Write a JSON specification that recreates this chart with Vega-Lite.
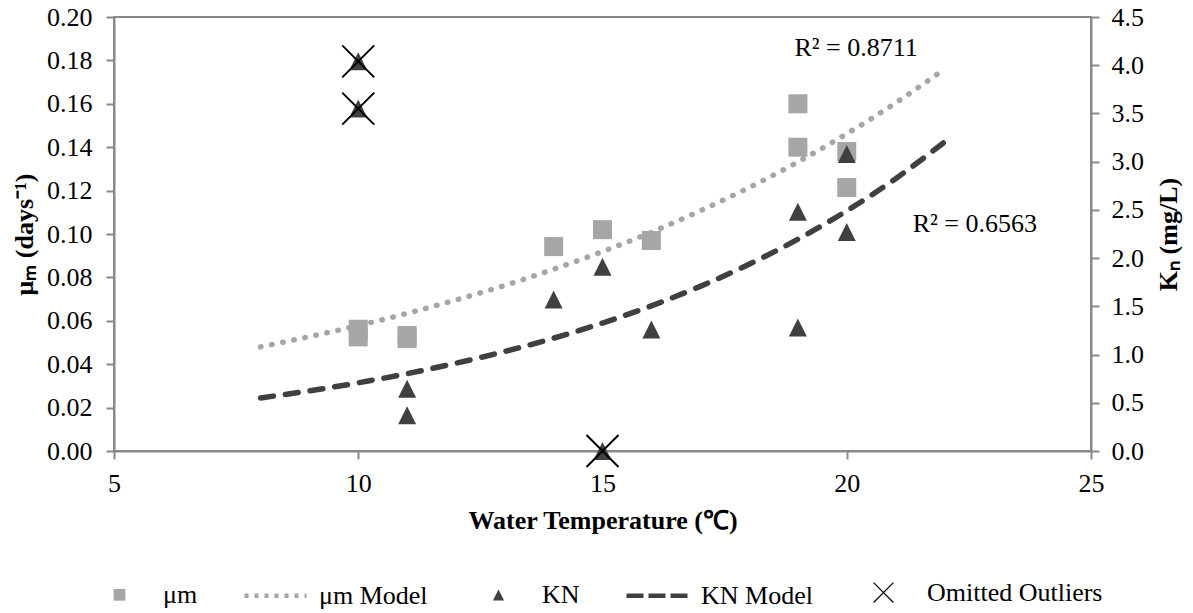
{
  "$schema": "https://vega.github.io/schema/vega-lite/v6.json",
  "width": 977,
  "height": 434,
  "autosize": {"type": "none"},
  "padding": {"left": 114, "top": 17, "right": 102, "bottom": 162},
  "background": "#ffffff",
  "config": {
    "font": "Liberation Serif",
    "style": {
      "guide-label": {"font": "Liberation Serif", "fill": "#000000"},
      "guide-title": {"font": "Liberation Serif", "fill": "#000000"}
    },
    "view": {"stroke": "#898989", "strokeWidth": 2},
    "axis": {
      "grid": false,
      "domainColor": "#898989",
      "domainWidth": 2,
      "tickColor": "#898989",
      "tickWidth": 2,
      "tickSize": 8,
      "labelFont": "Liberation Serif",
      "labelFontSize": 26,
      "labelColor": "#000000",
      "labelFlush": false,
      "labelOverlap": false,
      "titleFont": "Liberation Serif",
      "titleFontSize": 26,
      "titleFontWeight": "bold",
      "titleColor": "#000000"
    }
  },
  "datasets": {
    "mu": [
      {"T": 10, "value": 0.0561, "series": "μm"},
      {"T": 10, "value": 0.0526, "series": "μm"},
      {"T": 11, "value": 0.0532, "series": "μm"},
      {"T": 11, "value": 0.0518, "series": "μm"},
      {"T": 14, "value": 0.0942, "series": "μm"},
      {"T": 15, "value": 0.1020, "series": "μm"},
      {"T": 16, "value": 0.0970, "series": "μm"},
      {"T": 19, "value": 0.1600, "series": "μm"},
      {"T": 19, "value": 0.1400, "series": "μm"},
      {"T": 20, "value": 0.1380, "series": "μm"},
      {"T": 20, "value": 0.1214, "series": "μm"}
    ],
    "muModel": [
      {"T": 8, "value": 0.0480},
      {"T": 9, "value": 0.0527},
      {"T": 10, "value": 0.0578},
      {"T": 11, "value": 0.0634},
      {"T": 12, "value": 0.0696},
      {"T": 13, "value": 0.0763},
      {"T": 14, "value": 0.0838},
      {"T": 15, "value": 0.0919},
      {"T": 16, "value": 0.1008},
      {"T": 17, "value": 0.1107},
      {"T": 18, "value": 0.1214},
      {"T": 19, "value": 0.1332},
      {"T": 20, "value": 0.1462},
      {"T": 21, "value": 0.1604},
      {"T": 22, "value": 0.1760}
    ],
    "kn": [
      {"T": 10, "KN": 4.04, "series": "KN"},
      {"T": 10, "KN": 3.55, "series": "KN"},
      {"T": 11, "KN": 0.645, "series": "KN"},
      {"T": 11, "KN": 0.371, "series": "KN"},
      {"T": 14, "KN": 1.57, "series": "KN"},
      {"T": 15, "KN": 1.91, "series": "KN"},
      {"T": 15, "KN": 0.0, "series": "KN"},
      {"T": 16, "KN": 1.26, "series": "KN"},
      {"T": 19, "KN": 2.48, "series": "KN"},
      {"T": 19, "KN": 1.28, "series": "KN"},
      {"T": 20, "KN": 3.08, "series": "KN"},
      {"T": 20, "KN": 2.27, "series": "KN"}
    ],
    "knModel": [
      {"T": 8, "KN": 0.550},
      {"T": 9, "KN": 0.624},
      {"T": 10, "KN": 0.707},
      {"T": 11, "KN": 0.802},
      {"T": 12, "KN": 0.910},
      {"T": 13, "KN": 1.032},
      {"T": 14, "KN": 1.170},
      {"T": 15, "KN": 1.327},
      {"T": 16, "KN": 1.505},
      {"T": 17, "KN": 1.707},
      {"T": 18, "KN": 1.936},
      {"T": 19, "KN": 2.196},
      {"T": 20, "KN": 2.490},
      {"T": 21, "KN": 2.824},
      {"T": 22, "KN": 3.203}
    ],
    "outliers": [
      {"T": 10, "KN": 4.04, "series": "Omitted Outliers"},
      {"T": 10, "KN": 3.55, "series": "Omitted Outliers"},
      {"T": 15, "KN": 0.0, "series": "Omitted Outliers"}
    ]
  },
  "layer": [
    {
      "layer": [
        {
          "data": {"name": "mu"},
          "mark": {"type": "point", "filled": true, "size": 10000, "opacity": 1},
          "encoding": {
            "x": {
              "field": "T", "type": "quantitative",
              "title": "Water Temperature (℃)",
              "scale": {"domain": [5, 25], "nice": false, "zero": false},
              "axis": {
                "values": [5, 10, 15, 20, 25], "format": "d",
                "labelFont": "Liberation Serif", "labelFontSize": 26,
                "labelPadding": 11, "titlePadding": 11
              }
            },
            "y": {
              "field": "value", "type": "quantitative",
              "title": "μₘ (days⁻¹)",
              "scale": {"domain": [0, 0.2], "nice": false},
              "axis": {
                "values": [0, 0.02, 0.04, 0.06, 0.08, 0.1, 0.12, 0.14, 0.16, 0.18, 0.2],
                "format": ".2f",
                "labelFont": "Liberation Serif", "labelFontSize": 26,
                "labelPadding": 14, "titlePadding": 9
              }
            },
            "shape": {
              "field": "series", "type": "nominal",
              "scale": {
                "domain": ["μm", "μm Model", "KN", "KN Model", "Omitted Outliers"],
                "range": [
                  "M-0.19,-0.19L0.19,-0.19L0.19,0.19L-0.19,0.19Z",
                  "M-1,0L1,0",
                  "M0,-0.18L0.18,0.18L-0.18,0.18Z",
                  "M-1,0L1,0",
                  "M-0.306,-0.334L0.334,0.306L0.306,0.334L-0.334,-0.306ZM-0.306,0.334L-0.334,0.306L0.306,-0.334L0.334,-0.306Z"
                ]
              },
              "legend": {
                "title": null,
                "orient": "none",
                "direction": "horizontal",
                "legendX": -28,
                "legendY": 542,
                "padding": 0,
                "symbolSize": 3844,
                "symbolStrokeWidth": 4.5,
                "labelFont": "Liberation Serif",
                "labelFontSize": 26,
                "labelColor": "#000000",
                "labelOffset": 10,
                "labelLimit": 400,
                "columnPadding": 37
              }
            },
            "fill": {
              "field": "series", "type": "nominal",
              "scale": {
                "domain": ["μm", "μm Model", "KN", "KN Model", "Omitted Outliers"],
                "range": ["#a6a6a6", "transparent", "#404040", "transparent", "#000000"]
              }
            },
            "stroke": {
              "field": "series", "type": "nominal",
              "scale": {
                "domain": ["μm", "μm Model", "KN", "KN Model", "Omitted Outliers"],
                "range": ["transparent", "#a6a6a6", "transparent", "#404040", "transparent"]
              }
            },
            "strokeDash": {
              "field": "series", "type": "nominal",
              "scale": {
                "domain": ["μm", "μm Model", "KN", "KN Model", "Omitted Outliers"],
                "range": [[1, 0], [4, 6], [1, 0], [17, 5], [1, 0]]
              }
            }
          }
        },
        {
          "data": {"name": "muModel"},
          "mark": {
            "type": "line", "interpolate": "monotone",
            "color": "#a6a6a6", "strokeWidth": 5.5, "strokeCap": "round",
            "strokeDash": [0.5, 10.8]
          },
          "encoding": {
            "x": {"field": "T", "type": "quantitative", "title": "Water Temperature (℃)"},
            "y": {"field": "value", "type": "quantitative", "title": "μₘ (days⁻¹)"}
          }
        },
        {
          "data": {"values": [{"label": "R² = 0.8711"}]},
          "mark": {"type": "text", "align": "left", "baseline": "alphabetic", "font": "Liberation Serif", "fontSize": 26, "color": "#000000"},
          "encoding": {
            "x": {"datum": 18.93, "type": "quantitative", "title": "Water Temperature (℃)"},
            "y": {"datum": 0.182, "type": "quantitative", "title": "μₘ (days⁻¹)"},
            "text": {"field": "label"}
          }
        },
        {
          "data": {"values": [{"label": "R² = 0.6563"}]},
          "mark": {"type": "text", "align": "left", "baseline": "alphabetic", "font": "Liberation Serif", "fontSize": 26, "color": "#000000"},
          "encoding": {
            "x": {"datum": 21.35, "type": "quantitative", "title": "Water Temperature (℃)"},
            "y": {"datum": 0.1009, "type": "quantitative", "title": "μₘ (days⁻¹)"},
            "text": {"field": "label"}
          }
        }
      ]
    },
    {
      "layer": [
        {
          "data": {"name": "kn"},
          "mark": {"type": "point", "filled": true, "size": 10000, "opacity": 1},
          "encoding": {
            "x": {"field": "T", "type": "quantitative", "title": "Water Temperature (℃)"},
            "y": {
              "field": "KN", "type": "quantitative",
              "title": "Kₙ (mg/L)",
              "scale": {"domain": [0, 4.5], "nice": false},
              "axis": {
                "orient": "right",
                "values": [0, 0.5, 1, 1.5, 2, 2.5, 3, 3.5, 4, 4.5],
                "format": ".1f",
                "labelFont": "Liberation Serif", "labelFontSize": 26,
                "labelPadding": 12,
                "titleAngle": 270, "titleBaseline": "top", "titlePadding": 12
              }
            },
            "shape": {"field": "series", "type": "nominal"},
            "fill": {"field": "series", "type": "nominal"},
            "stroke": {"field": "series", "type": "nominal"},
            "strokeDash": {"field": "series", "type": "nominal"}
          }
        },
        {
          "data": {"name": "knModel"},
          "mark": {
            "type": "line", "interpolate": "monotone",
            "color": "#404040", "strokeWidth": 5.5, "strokeCap": "round",
            "strokeDash": [13, 12]
          },
          "encoding": {
            "x": {"field": "T", "type": "quantitative", "title": "Water Temperature (℃)"},
            "y": {"field": "KN", "type": "quantitative", "title": "Kₙ (mg/L)"}
          }
        },
        {
          "data": {"name": "outliers"},
          "mark": {"type": "point", "filled": true, "size": 10000, "opacity": 1},
          "encoding": {
            "x": {"field": "T", "type": "quantitative", "title": "Water Temperature (℃)"},
            "y": {"field": "KN", "type": "quantitative", "title": "Kₙ (mg/L)"},
            "shape": {"field": "series", "type": "nominal"},
            "fill": {"field": "series", "type": "nominal"},
            "stroke": {"field": "series", "type": "nominal"},
            "strokeDash": {"field": "series", "type": "nominal"}
          }
        }
      ]
    }
  ],
  "resolve": {"scale": {"y": "independent"}}
}
